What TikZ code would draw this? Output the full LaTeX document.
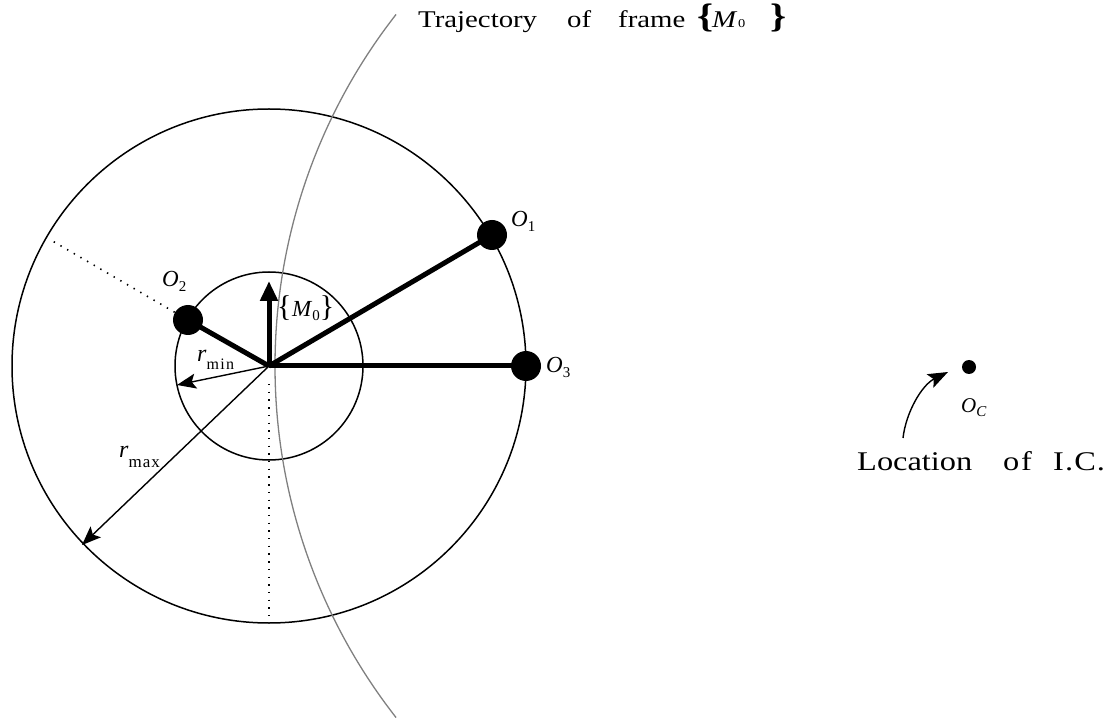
\documentclass[tikz,border=0pt]{standalone}
\usepackage{fontspec}
\setmainfont{Liberation Serif}
\newfontfamily\widefont[FakeStretch=1.2]{Liberation Serif}
\usetikzlibrary{arrows.meta,calc}
\newcommand{\lowsub}[2]{\raisebox{-#1}{\fontsize{15}{15}\selectfont #2}}
\tikzset{
  circ/.style={line width=1.5pt, black},
  traj/.style={line width=1.3pt, black!50},
  dotline/.style={line width=1.6pt, black, dash pattern=on 1.4pt off 6.3pt},
  link/.style={line width=5pt, black},
  joint/.style={circle, fill=black, minimum size=30pt, inner sep=0pt},
  thinarr/.style={line width=1.4pt, black, -{Stealth[length=19pt,width=15pt,inset=4pt]}},
  lab/.style={inner sep=0pt, anchor=base west, font=\fontsize{23}{26}\selectfont},
}
\begin{document}
\begin{tikzpicture}[x=1pt,y=-1pt]
\useasboundingbox (0,0) rectangle (1117,719);
% centre and circles
\coordinate (C) at (269,366);
\draw[circ] (C) circle (257pt);
\draw[circ] (C) circle (94pt);
% trajectory of frame {M0}
\coordinate (T) at (846,366);
\draw[traj] ($(T)+(142:571pt)$) arc[start angle=142, end angle=218, radius=571pt];
% joints
\coordinate (P1) at (492,235);
\coordinate (P2) at (188,320);
\coordinate (P3) at (526,366);
% dotted lines
\coordinate (D2) at ($(C)+(150:251pt)$);
\coordinate (V1) at (269,384);
\coordinate (V2) at (269,616);
\draw[dotline] (P2) -- (D2);
\draw[dotline] (V1) -- (V2);
% thin arrows r_min, r_max
\coordinate (Rmin) at (177,385);
\coordinate (Rmax) at (82,545);
\draw[thinarr] (C) -- (Rmin);
\draw[thinarr] (C) -- (Rmax);
% links
\draw[link] (C) -- (P1);
\draw[link] (C) -- (P2);
\draw[link] (C) -- (P3);
\coordinate (Mtip) at (269,281);
\draw[link, -{Triangle[length=20pt,width=17pt]}] (C) -- (Mtip);
\node[joint] (O1) at (P1) {};
\node[joint] (O2) at (P2) {};
\node[joint] (O3) at (P3) {};
% labels
\node[lab] (lO1) at (511,227) {\textit{O}\lowsub{5pt}{1}};
\node[lab] (lO2) at (162,287) {\textit{O}\lowsub{5pt}{2}};
\node[lab] (lO3) at (546,373) {\textit{O}\lowsub{5pt}{3}};
\node[lab] (lM0) at (277,317) {{\fontsize{30}{30}\selectfont\{}\hspace{0.5pt}\textit{M}\lowsub{4pt}{0}{\fontsize{30}{30}\selectfont\}}};
\node[lab] (lrmin) at (197,362) {\fontsize{24}{26}\selectfont\textit{r}\raisebox{-8pt}{\fontsize{16}{16}\selectfont\addfontfeature{LetterSpace=8}min}};
\node[lab] (lrmax) at (119,457) {\fontsize{24}{26}\selectfont\textit{r}\raisebox{-10pt}{\fontsize{17}{17}\selectfont\addfontfeature{LetterSpace=6}max}};
% title
\node[lab, font=\fontsize{24}{26}\selectfont\widefont] (title) at (418,28)
  {\rlap{Trajectory}\hspace*{149pt}\rlap{of}\hspace*{51pt}\rlap{frame}\hspace*{79pt}\rlap{\bfseries\fontsize{34}{34}\selectfont\{}\hspace*{15pt}\rlap{\textit{M}}\hspace*{26pt}\rlap{\fontsize{12}{12}\selectfont 0}\hspace*{32pt}{\bfseries\fontsize{34}{34}\selectfont\}}};
% instantaneous centre
\node[circle, fill=black, minimum size=14pt, inner sep=0pt] (Oc) at (969,367) {};
\node[lab, font=\fontsize{21}{22}\selectfont] (lOc) at (961,412) {\textit{O}\lowsub{5pt}{\fontsize{15}{15}\selectfont\textit{C}}};
\node[lab, font=\fontsize{27}{30}\selectfont\widefont] (loc) at (857,470) {\rlap{Location}\hspace*{146pt}\rlap{\addfontfeature{LetterSpace=6}of}\hspace*{50pt}{\addfontfeature{LetterSpace=4}I.C.}};
\coordinate (As) at (903,438);
\coordinate (Ae) at (948,372);
\draw[line width=1.4pt, -{Stealth[length=20pt,width=15pt,inset=4pt]}] (As) .. controls (906,412) and (922,385) .. (Ae);
\end{tikzpicture}
\end{document}
